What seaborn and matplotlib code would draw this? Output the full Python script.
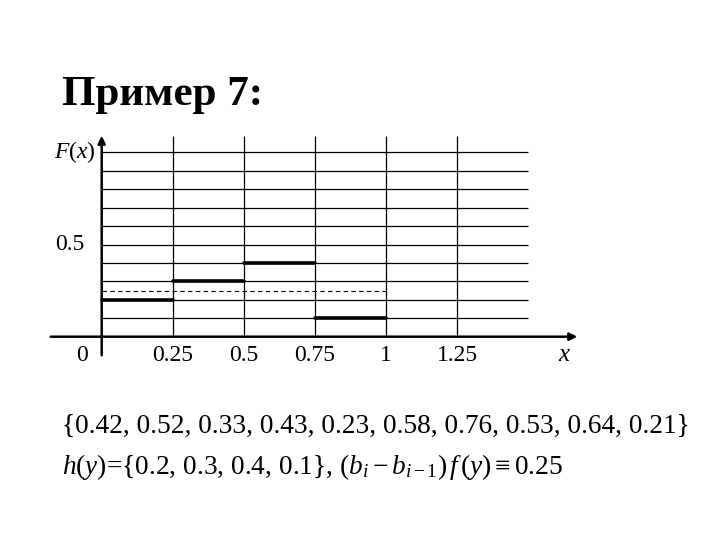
import matplotlib
matplotlib.use("Agg")
import matplotlib.pyplot as plt
import seaborn as sns
import pandas as pd

# data
sample = [0.42, 0.52, 0.33, 0.43, 0.23, 0.58, 0.76, 0.53, 0.64, 0.21]
bins = [0, 0.25, 0.5, 0.75, 1.0]
h = [0.2, 0.3, 0.4, 0.1]
level = 0.25
x_ticks = [0.25, 0.5, 0.75, 1, 1.25]
x_labels = ["0.25", "0.5", "0.75", "1", "1.25"]
y_grid = [0.1, 0.2, 0.3, 0.4, 0.5, 0.6, 0.7, 0.8, 0.9, 1.0]

sns.set_theme(style="white")
plt.rcParams["font.family"] = ["Liberation Serif", "DejaVu Serif"]
plt.rcParams["text.color"] = "black"
plt.rcParams["mathtext.fontset"] = "custom"
plt.rcParams["mathtext.rm"] = "Liberation Serif"
plt.rcParams["mathtext.it"] = "Liberation Serif:italic"

fig = plt.figure(figsize=(7.2, 5.4), dpi=100)
ax = fig.add_axes([0, 0, 1, 1])
# pixel mapping: origin at (101.7, 336.7), 284.4 px per x unit, 184.4 px per y unit
x0, y0, sx, sy = 101.7, 336.7, 284.4, 184.4
ax.set_xlim(-x0 / sx, (720 - x0) / sx)
ax.set_ylim((y0 - 540) / sy, y0 / sy)
ax.axis("off")

# grid
ax.hlines(y_grid, 0, 1.5, color="black", lw=0.9)
ax.vlines(x_ticks, 0, 1.088, color="black", lw=0.9)

# axes with arrows
ax.annotate("", xy=(1.682, 0), xytext=(-0.189, 0),
            arrowprops=dict(arrowstyle="-|>", lw=1.8, color="black", mutation_scale=11))
ax.annotate("", xy=(0, 1.105), xytext=(0, -0.116),
            arrowprops=dict(arrowstyle="-|>", lw=1.8, color="black", mutation_scale=11))

# histogram steps
seg = pd.DataFrame({
    "x": [v for i in range(len(h)) for v in (bins[i], bins[i + 1])],
    "y": [v for v in h for _ in range(2)],
    "seg": [i for i in range(len(h)) for _ in range(2)],
})
sns.lineplot(data=seg, x="x", y="y", units="seg", estimator=None,
             color="black", lw=2.6, ax=ax, legend=False)
ax.hlines(level, bins[0], bins[-1], color="black", lw=0.8, linestyles=(0, (4, 3)))

# labels
for xt, lab in zip(x_ticks, x_labels):
    ax.text(xt, -0.1, lab, ha="center", va="center", fontsize=17)
ax.text(-0.07, -0.1, "0", ha="center", va="center", fontsize=17)
ax.text(1.629, -0.1, "$x$", ha="center", va="center", fontsize=18)
ax.text(-0.111, 0.5, "0.5", ha="center", va="center", fontsize=17)
ax.text(-0.095, 1.0, "$F(x)$", ha="center", va="center", fontsize=17)

# title and text lines
fig.text(62 / 720, 1 - 105 / 540, "Пример 7:", fontsize=31, fontweight="bold",
         ha="left", va="baseline")
line1 = "{" + ", ".join(str(v) for v in sample) + "}"
fig.text(62 / 720, 1 - 433 / 540, line1, fontsize=19.7, ha="left", va="baseline")
line2 = ("$h(y)$={" + ", ".join(str(v) for v in h) + "}, "
         r"$(b_i - b_{i-1})\,f\,(y) \equiv 0.25$")
fig.text(62 / 720, 1 - 474 / 540, line2, fontsize=19.7, ha="left", va="baseline")

fig.savefig("out.png", dpi=100)
